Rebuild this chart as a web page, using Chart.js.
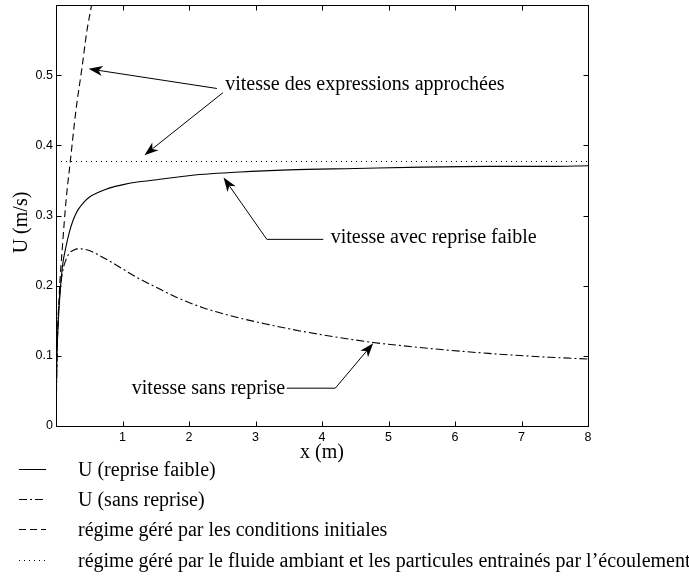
<!DOCTYPE html>
<html>
<head>
<meta charset="utf-8">
<script src="https://cdn.jsdelivr.net/npm/chart.js@4.4.1/dist/chart.umd.min.js"></script>
<style>
html,body{margin:0;padding:0;background:#fff;}
#wrap{position:relative;width:689px;height:577px;overflow:hidden;background:#fff;}
#c{position:absolute;left:0;top:0;}
.leg{position:absolute;left:0;width:689px;height:24px;font-family:"Liberation Serif","Times New Roman",serif;font-size:20px;line-height:24px;color:#000;white-space:nowrap;}
.leg svg{position:absolute;left:0;top:0;}
.leg span{position:absolute;left:78px;top:0;}
</style>
</head>
<body>
<div id="wrap">
<canvas id="c" width="689" height="577"></canvas>
</div>
<script>
// ---- data ----
const xSolid = [0, 0.01, 0.03, 0.065, 0.1, 0.14, 0.2, 0.26, 0.33, 0.41, 0.5, 0.64, 0.8, 1.01, 1.25, 1.52, 2.02, 2.77, 3.5, 4.5, 5.5, 6.5, 7.42, 8];
const uSolid = [0, 0.08, 0.14, 0.194, 0.23, 0.251, 0.276, 0.294, 0.308, 0.318, 0.326, 0.333, 0.339, 0.344, 0.348, 0.351, 0.357, 0.362, 0.365, 0.367, 0.369, 0.370, 0.370, 0.371];

const xSans = [0, 0.02, 0.05, 0.1, 0.15, 0.2, 0.27, 0.35, 0.5, 0.75, 1.0, 1.25, 1.5, 1.8, 2.2, 2.67, 3.2, 3.67, 4.2, 4.77, 5.2, 5.67, 6.5, 7.42, 8];
const uSans = [0, 0.12, 0.18, 0.22, 0.237, 0.246, 0.251, 0.2525, 0.250, 0.238, 0.224, 0.210, 0.198, 0.184, 0.169, 0.156, 0.1445, 0.1355, 0.127, 0.119, 0.1145, 0.110, 0.1035, 0.098, 0.0955];

const xInit = [0, 0.01, 0.02, 0.05, 0.1, 0.15, 0.215, 0.3, 0.39, 0.46, 0.535, 0.6];
const uInit = [0, 0.082, 0.12, 0.19, 0.26, 0.32, 0.377, 0.45, 0.51, 0.56, 0.60, 0.635];

const xAmb = [0, 8];
const uAmb = [0.377, 0.377];

const xTicks = [1, 2, 3, 4, 5, 6, 7, 8];
const yTicks = [0, 0.1, 0.2, 0.3, 0.4, 0.5];
const yTickLabels = ["0", "0.1", "0.2", "0.3", "0.4", "0.5"];

const xTitle = "x (m)";
const yTitle = "U (m/s)";

const seriesNames = ["U (reprise faible)", "U (sans reprise)", "régime géré par les conditions initiales", "régime géré par le fluide ambiant et les particules entrainés par l\u2019écoulement"];

const annTexts = ["vitesse des expressions approchées", "vitesse avec reprise faible", "vitesse sans reprise"];
const annTextX = [2.545, 4.13, 1.14];
const annTextY = [0.486, 0.268, 0.0524];

const arrowX = [[2.42, 0.49], [2.51, 1.33], [4.02, 3.17, 2.52], [3.47, 4.20, 4.77]];
const arrowY = [[0.481, 0.509], [0.475, 0.386], [0.266, 0.266, 0.354], [0.0539, 0.0539, 0.118]];

// ---- styles ----
const dashes = [[], [8, 3, 2, 3], [7, 4], [1, 4]];
const serif = '"Liberation Serif", "Times New Roman", serif';
const sans = '"Liberation Sans", Arial, sans-serif';

function pts(xs, ys){ return xs.map((x,i)=>({x:x, y:ys[i]})); }

const boxPlugin = {
  id: 'boxPlugin',
  afterDatasetsDraw(chart){
    const ctx = chart.ctx, xs = chart.scales.x, ys = chart.scales.y, a = chart.chartArea;
    ctx.save();
    ctx.fillStyle = '#000';
    ctx.font = '20px ' + serif;
    ctx.textBaseline = 'middle';
    ctx.textAlign = 'left';
    annTexts.forEach((t,i)=>{
      ctx.fillText(t, xs.getPixelForValue(annTextX[i]), ys.getPixelForValue(annTextY[i]));
    });
    // y title
    ctx.save();
    ctx.translate(a.left - 34, (a.top + a.bottom) / 2 + 7);
    ctx.rotate(-Math.PI / 2);
    ctx.textAlign = 'center';
    ctx.fillText(yTitle, 0, 0);
    ctx.restore();
    // arrows
    ctx.strokeStyle = '#000';
    ctx.lineWidth = 1;
    arrowX.forEach((ax,i)=>{
      const p = ax.map((v,j)=>[xs.getPixelForValue(v), ys.getPixelForValue(arrowY[i][j])]);
      const n = p.length;
      const tip = p[n-1], prev = p[n-2];
      const ang = Math.atan2(tip[1]-prev[1], tip[0]-prev[0]);
      const L = 14, W = 5;
      const dx = Math.cos(ang), dy = Math.sin(ang);
      const notch = [tip[0]-0.72*L*dx, tip[1]-0.72*L*dy];
      ctx.beginPath();
      ctx.moveTo(p[0][0], p[0][1]);
      for (let k=1;k<n-1;k++) ctx.lineTo(p[k][0], p[k][1]);
      ctx.lineTo(notch[0], notch[1]);
      ctx.stroke();
      ctx.beginPath();
      ctx.moveTo(tip[0], tip[1]);
      ctx.lineTo(tip[0]-L*dx - W*dy, tip[1]-L*dy + W*dx);
      ctx.lineTo(notch[0], notch[1]);
      ctx.lineTo(tip[0]-L*dx + W*dy, tip[1]-L*dy - W*dx);
      ctx.closePath();
      ctx.fill();
    });
    ctx.restore();
  },
  afterDraw(chart){
    const ctx = chart.ctx, a = chart.chartArea, xs = chart.scales.x, ys = chart.scales.y;
    ctx.save();
    ctx.strokeStyle = '#000';
    ctx.lineWidth = 1;
    const L0 = Math.round(a.left) + 0.5, R0 = Math.round(a.right) + 0.5;
    const T0 = Math.round(a.top) + 0.5, B0 = Math.round(a.bottom) + 0.5;
    ctx.strokeRect(L0, T0, R0 - L0, B0 - T0);
    const T = 5;
    ctx.beginPath();
    xTicks.forEach(v=>{
      const px = Math.round(xs.getPixelForValue(v)) + 0.5;
      ctx.moveTo(px, B0); ctx.lineTo(px, B0 - T);
      ctx.moveTo(px, T0); ctx.lineTo(px, T0 + T);
    });
    yTicks.forEach(v=>{
      const py = Math.round(ys.getPixelForValue(v)) + 0.5;
      ctx.moveTo(L0, py); ctx.lineTo(L0 + T, py);
      ctx.moveTo(R0, py); ctx.lineTo(R0 - T, py);
    });
    ctx.stroke();
    ctx.restore();
  }
};

const xsAll = [xSolid, xSans, xInit, xAmb];
const usAll = [uSolid, uSans, uInit, uAmb];

new Chart(document.getElementById('c'), {
  type: 'scatter',
  data: {
    datasets: seriesNames.map((name,i)=>({
      label: name,
      data: pts(xsAll[i], usAll[i]),
      showLine: true,
      borderColor: '#000',
      backgroundColor: '#000',
      borderWidth: i === 3 ? 1 : 1.1,
      borderDash: dashes[i],
      pointRadius: 0,
      pointHoverRadius: 0,
      cubicInterpolationMode: i === 3 ? 'default' : 'monotone',
      tension: 0
    }))
  },
  options: {
    responsive: false,
    animation: false,
    devicePixelRatio: 1,
    layout: { padding: { left: 0, top: 5, right: 101, bottom: 0 } },
    plugins: { legend: { display: false }, tooltip: { enabled: false } },
    scales: {
      x: {
        type: 'linear', min: 0, max: 8,
        afterBuildTicks: s => { s.ticks = xTicks.map(v=>({value:v})); },
        afterFit: s => { s.height = 151; s.paddingLeft = 0; s.paddingRight = 0; },
        grid: { display: false, drawTicks: false },
        border: { display: false },
        ticks: { padding: 4, color: '#000', font: { family: sans, size: 12.5 }, maxRotation: 0, autoSkip: false },
        title: { display: true, text: xTitle, color: '#000', font: { family: serif, size: 20 }, padding: { top: 0, bottom: 112 } }
      },
      y: {
        type: 'linear', min: 0, max: 0.6,
        afterBuildTicks: s => { s.ticks = yTicks.map(v=>({value:v})); },
        afterFit: s => { s.width = 56; s.paddingTop = 0; s.paddingBottom = 0; },
        grid: { display: false, drawTicks: false },
        border: { display: false },
        ticks: { padding: 3, color: '#000', font: { family: sans, size: 12.5 }, autoSkip: false,
          callback: (v) => { const k = yTicks.indexOf(v); return k >= 0 ? yTickLabels[k] : ''; } },
        title: { display: false }
      }
    }
  },
  plugins: [boxPlugin]
});

// ---- legend (HTML, below the axes) ----
const legendTop = [457, 487, 517, 548];
const wrap = document.getElementById('wrap');
seriesNames.forEach((name,i)=>{
  const d = document.createElement('div');
  d.className = 'leg';
  d.style.top = legendTop[i] + 'px';
  const dash = dashes[i].length ? ' stroke-dasharray="' + dashes[i].join(' ') + '"' : '';
  d.innerHTML = '<svg width="60" height="24"><line x1="19" y1="12.5" x2="46" y2="12.5" stroke="#000" stroke-width="1"' + dash + '/></svg><span></span>';
  d.querySelector('span').textContent = name;
  wrap.appendChild(d);
});
</script>
</body>
</html>
